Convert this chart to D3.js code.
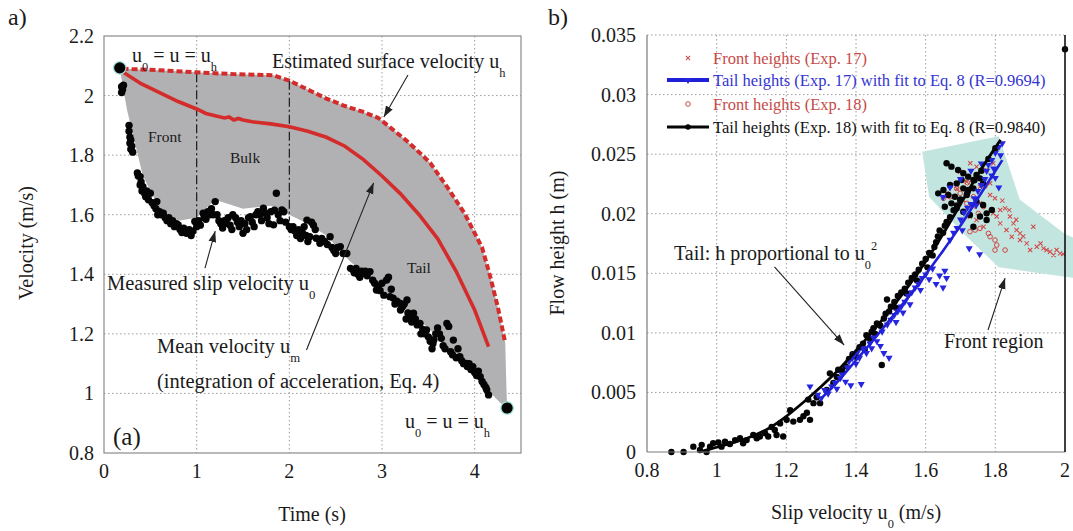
<!DOCTYPE html>
<html>
<head>
<meta charset="utf-8">
<script src="https://cdn.jsdelivr.net/npm/d3@7"></script>
<style>
  body { margin: 0; background: #fff; }
  svg { display: block; font-family: "Liberation Serif", "Times New Roman", serif; }
  .grid line { stroke: #9c9c9c; stroke-width: 1; stroke-dasharray: 1.5,2.5; }
</style>
</head>
<body>
<svg id="chart" width="1073" height="531"></svg>
<script>
// ---------- panel a) data ----------
const timeTicks = [0, 1, 2, 3, 4];
const velTicks = [0.8, 1, 1.2, 1.4, 1.6, 1.8, 2, 2.2];

// estimated surface velocity u_h (dashed red)
const surfaceVel = [[0.2,2.09],[0.6,2.085],[1.0,2.078],[1.4,2.072],[1.83,2.068],[2.0,2.05],[2.2,2.02],[2.4,1.99],
  [2.6,1.965],[2.8,1.945],[2.96,1.925],[3.1,1.89],[3.26,1.85],[3.4,1.81],[3.52,1.774],[3.71,1.69],[3.89,1.605],
  [4.08,1.49],[4.17,1.39],[4.25,1.29],[4.33,1.17]];

// mean velocity u_m (solid red)
const meanVel = [[0.2,2.08],[0.4,2.04],[0.6,2.01],[0.8,1.98],[1.0,1.955],[1.1,1.94],[1.2,1.932],[1.3,1.925],
  [1.35,1.928],[1.4,1.918],[1.45,1.923],[1.5,1.918],[1.6,1.912],[1.8,1.905],[2.0,1.895],[2.2,1.88],[2.4,1.86],
  [2.6,1.83],[2.8,1.785],[3.0,1.73],[3.2,1.67],[3.4,1.6],[3.6,1.52],[3.8,1.41],[4.0,1.28],[4.15,1.157]];

// lower edge of the grey band, from the tail end back to the start
const bandLower = [[4.34,1.05],[4.35,0.95],[4.27,0.97],[3.5,1.22],[2.65,1.445],[2.4,1.53],[2.2,1.57],[2.0,1.6],
  [1.8,1.63],[1.5,1.62],[1.2,1.65],[1.0,1.59],[0.8,1.58],[0.6,1.62],[0.42,1.73],[0.35,1.82],
  [0.25,1.95],[0.17,2.09]];

// front / bulk boundaries (dash-dot): time, top velocity, bottom velocity
const phaseBounds = [[1, 2.075, 1.58], [2, 2.05, 1.58]];

// equal-velocity end points
const endPoints = [[0.17, 2.093], [4.35, 0.951]];

// measured slip velocity u_0
const slipVel = [[0.19,2.03],[0.2,2.02],[0.19,2.01],[0.21,2.035],
  [0.27,1.9],[0.27,1.88],[0.28,1.86],[0.29,1.85],[0.28,1.84],[0.3,1.83],[0.29,1.82],[0.31,1.81],
  [0.36,1.74],[0.37,1.73],[0.39,1.728],[0.4,1.71],[0.39,1.7],[0.42,1.694],[0.41,1.68],[0.44,1.67],[0.46,1.68],
  [0.45,1.66],[0.5,1.672],[0.48,1.65],[0.52,1.64],[0.54,1.63],[0.57,1.644],[0.56,1.62],[0.6,1.61],[0.58,1.6],
  [0.62,1.6],[0.64,1.605],[0.66,1.59],[0.68,1.58],[0.7,1.59],[0.71,1.582],[0.72,1.57],[0.74,1.58],[0.76,1.56],
  [0.78,1.57],[0.8,1.566],[0.82,1.55],[0.84,1.54],[0.86,1.555],[0.89,1.538],[0.9,1.545],[0.92,1.55],[0.94,1.53],
  [0.96,1.545],[0.98,1.577],[1.0,1.56],[1.02,1.58],[1.04,1.565],[1.07,1.605],[1.08,1.59],[1.1,1.585],[1.12,1.61],
  [1.14,1.6],[1.16,1.62],[1.2,1.644],[1.18,1.6],[1.22,1.6],[1.24,1.58],[1.26,1.57],[1.28,1.555],[1.3,1.58],
  [1.32,1.571],[1.34,1.59],[1.36,1.565],[1.39,1.6],[1.38,1.55],[1.42,1.59],[1.44,1.575],[1.46,1.56],[1.48,1.58],
  [1.5,1.538],[1.52,1.57],[1.54,1.55],[1.56,1.59],[1.58,1.593],[1.6,1.575],[1.62,1.56],[1.64,1.6],[1.66,1.61],
  [1.68,1.6],[1.7,1.58],[1.72,1.622],[1.74,1.605],[1.76,1.59],[1.78,1.57],[1.8,1.61],[1.83,1.566],[1.84,1.615],
  [1.86,1.672],[1.88,1.6],[1.9,1.58],[1.92,1.616],[1.94,1.61],[1.96,1.575],[2.0,1.56],[2.02,1.55],[2.04,1.56],
  [2.06,1.545],[2.08,1.53],[2.1,1.55],[2.12,1.52],[2.14,1.54],[2.16,1.56],[2.19,1.582],[2.18,1.53],[2.2,1.51],
  [2.22,1.526],[2.24,1.575],[2.26,1.565],[2.29,1.521],[2.28,1.55],[2.33,1.504],[2.35,1.52],[2.38,1.51],
  [2.41,1.5],[2.44,1.526],[2.46,1.49],[2.48,1.48],[2.5,1.47],[2.52,1.49],[2.55,1.493],[2.58,1.47],[2.62,1.47],
  [2.66,1.42],[2.69,1.414],[2.7,1.405],[2.72,1.42],[2.74,1.4],[2.76,1.39],[2.78,1.41],[2.8,1.403],[2.82,1.41],
  [2.84,1.395],[2.87,1.409],[2.9,1.38],[2.92,1.37],[2.94,1.347],[2.96,1.36],[2.98,1.345],[3.0,1.37],[3.02,1.33],
  [3.05,1.381],[3.07,1.39],[3.085,1.325],[3.1,1.35],[3.12,1.32],[3.14,1.3],[3.16,1.31],[3.19,1.303],[3.2,1.28],
  [3.22,1.29],[3.24,1.3],[3.27,1.314],[3.26,1.25],[3.28,1.27],[3.3,1.255],[3.34,1.269],[3.32,1.24],[3.36,1.25],
  [3.38,1.23],[3.41,1.235],[3.42,1.2],[3.44,1.215],[3.46,1.2],[3.48,1.213],[3.5,1.19],[3.52,1.175],[3.55,1.168],
  [3.54,1.15],[3.56,1.18],[3.58,1.2],[3.6,1.22],[3.62,1.2],[3.64,1.185],[3.66,1.16],[3.68,1.15],[3.7,1.235],
  [3.72,1.225],[3.74,1.14],[3.77,1.179],[3.76,1.13],[3.8,1.12],[3.82,1.15],[3.84,1.123],[3.86,1.11],[3.88,1.1],
  [3.91,1.101],[3.92,1.09],[3.94,1.1],[3.96,1.08],[3.98,1.09],[4.0,1.07],[4.02,1.06],[4.04,1.075],[4.06,1.056],
  [4.08,1.04],[4.1,1.03],[4.12,1.02],[4.13,1.012],[4.15,0.995]];

// ---------- panel b) data ----------
const slipTicks = [0.8, 1, 1.2, 1.4, 1.6, 1.8, 2];
const heightTicks = [0, 0.005, 0.01, 0.015, 0.02, 0.025, 0.03, 0.035];

const frontRegion = [[1.59,0.0252],[1.81,0.0265],[1.87,0.0212],[2.0,0.0183],[2.03,0.0179],[2.03,0.0146],
  [2.0,0.0147],[1.81,0.0155],[1.72,0.018],[1.61,0.0214]];

const front17 = [[1.699,0.02353],[1.728,0.02423],[1.746,0.02395],[1.775,0.02367],[1.794,0.02423],[1.718,0.02269],
  [1.756,0.02227],[1.785,0.02255],[1.66,0.02171],[1.68,0.02143],[1.708,0.02115],[1.737,0.02059],[1.756,0.02087],
  [1.775,0.02003],[1.794,0.02003],[1.814,0.02031],[1.828,0.02045],[1.842,0.01976],[1.852,0.01919],[1.861,0.01863],
  [1.832,0.01863],[1.871,0.01835],[1.847,0.01807],[1.89,0.01751],[1.909,0.01891],[1.919,0.01723],[1.938,0.01709],
  [1.957,0.01681],[1.967,0.01653],[1.986,0.01667],[1.947,0.01695],[1.804,0.01976],[1.814,0.01919],[1.766,0.01891],
  [1.785,0.02157],[1.799,0.02129],[1.727,0.01976],[1.746,0.01947],[1.871,0.01779],[1.9,0.01695],[1.976,0.01695],
  [1.995,0.01661],[1.82,0.0211],[1.84,0.0203],[1.86,0.0195],[1.88,0.0181],[1.93,0.0175],[1.69,0.0221]];

const front18 = [[1.785,0.01807],[1.799,0.01779],[1.78,0.01835],[1.804,0.01737],[1.799,0.01695],[1.828,0.01695],
  [1.756,0.01877],[1.742,0.01863],[1.727,0.01849],[1.67,0.02143],[1.699,0.02171],[1.651,0.02129],[1.718,0.02087],
  [1.737,0.02143],[1.766,0.02059],[1.689,0.02213],[1.751,0.02003],[1.77,0.0223],[1.72,0.0226]];

const tail17 = [[1.268,0.0055],[1.29,0.0048],[1.3,0.0045],[1.31,0.0052],[1.32,0.0049],[1.33,0.0055],[1.34,0.0058],
  [1.345,0.0053],[1.355,0.0062],[1.36,0.0065],[1.37,0.0059],[1.375,0.0071],[1.38,0.0076],[1.385,0.0056],
  [1.39,0.0079],[1.395,0.0082],[1.4,0.0074],[1.405,0.0084],[1.41,0.0079],[1.415,0.0057],[1.42,0.0087],
  [1.43,0.0083],[1.44,0.0091],[1.445,0.0087],[1.45,0.0096],[1.46,0.0093],[1.47,0.0089],[1.475,0.0101],
  [1.48,0.0083],[1.49,0.0107],[1.495,0.0079],[1.5,0.0111],[1.51,0.0115],[1.515,0.0109],[1.52,0.0118],
  [1.53,0.0122],[1.535,0.0117],[1.54,0.0126],[1.55,0.0131],[1.555,0.0124],[1.56,0.0134],[1.57,0.0138],
  [1.58,0.0141],[1.585,0.0136],[1.59,0.0146],[1.6,0.0149],[1.61,0.0145],[1.62,0.0154],[1.63,0.0141],
  [1.64,0.0148],[1.65,0.0138],[1.655,0.0152],[1.66,0.0146],[1.67,0.0178],[1.68,0.0184],[1.69,0.0188],
  [1.7,0.0195],[1.705,0.0186],[1.71,0.0201],[1.72,0.0205],[1.725,0.0171],[1.73,0.0208],[1.74,0.0213],
  [1.745,0.0207],[1.75,0.0219],[1.755,0.0166],[1.76,0.0224],[1.77,0.0229],[1.775,0.0236],[1.78,0.0241],
  [1.79,0.0245],[1.795,0.0238],[1.8,0.0251],[1.81,0.0256],[1.815,0.0249],[1.82,0.0259],[1.65,0.0214],
  [1.67,0.0222],[1.7,0.0229],[1.73,0.0236],[1.76,0.0242],[1.79,0.0232],[1.8,0.023],[1.81,0.0222]];

const fit17 = [[1.3,0.0045],[1.35,0.006],[1.4,0.0077],[1.45,0.0094],[1.5,0.0112],[1.55,0.013],[1.6,0.0149],
  [1.65,0.0169],[1.7,0.019],[1.75,0.0213],[1.82,0.0245]];

const tail18 = [[0.87,0],[0.905,0],[0.933,0.00045],[0.952,0.00017],[0.957,0.0006],[0.971,0],[0.981,0.00045],
  [0.99,0.00073],[1.005,0.0008],[1.014,0.00045],[1.024,0.00087],[1.038,0.00067],[1.053,0.001],[1.067,0.00115],
  [1.076,0.00073],[1.086,0.001],[1.105,0.00143],[1.115,0.00115],[1.124,0.0013],[1.139,0.00157],[1.148,0.0013],
  [1.158,0.0021],[1.167,0.00185],[1.172,0.00143],[1.182,0.0024],[1.191,0.0013],[1.201,0.0027],[1.211,0.0035],
  [1.22,0.00255],[1.239,0.0027],[1.249,0.003],[1.259,0.0033],[1.268,0.0027],[1.263,0.0044],[1.278,0.0041],
  [1.287,0.0046],[1.297,0.0041],[1.316,0.0052],[1.325,0.0066],[1.335,0.0058],[1.345,0.0063],[1.349,0.0069],
  [1.36,0.0068],[1.37,0.0072],[1.38,0.0078],[1.39,0.0082],[1.4,0.008],[1.41,0.0088],[1.42,0.0091],
  [1.425,0.0086],[1.43,0.0098],[1.44,0.0095],[1.445,0.0101],[1.45,0.0104],[1.455,0.0099],[1.46,0.0108],
  [1.47,0.0106],[1.474,0.0073],[1.48,0.0112],[1.485,0.0116],[1.489,0.0128],[1.495,0.0118],[1.5,0.0122],
  [1.51,0.0126],[1.515,0.0121],[1.52,0.0131],[1.53,0.0134],[1.54,0.0137],[1.545,0.0133],[1.55,0.0142],
  [1.56,0.0146],[1.57,0.0149],[1.575,0.0144],[1.58,0.0153],[1.59,0.0158],[1.6,0.0162],[1.605,0.0155],
  [1.61,0.0167],[1.62,0.0165],[1.625,0.0172],[1.63,0.0176],[1.635,0.0181],[1.64,0.0186],[1.65,0.0184],
  [1.655,0.019],[1.66,0.0193],[1.67,0.0197],[1.68,0.0203],[1.69,0.0207],[1.7,0.0212],[1.72,0.0218],
  [1.74,0.0228],[1.76,0.0236],[1.78,0.0246],[1.8,0.0255],
  [1.66,0.02423],[1.674,0.02395],[1.693,0.02367],[1.708,0.02339],[1.722,0.02311],[1.737,0.02283],[1.703,0.02283],
  [1.689,0.02255],[1.67,0.02241],[1.651,0.02199],[1.636,0.02171],[1.665,0.02157],[1.684,0.02143],[1.708,0.02213],
  [1.722,0.02199],[1.746,0.02325],[1.756,0.02297],[1.765,0.02255],[1.737,0.02213],[1.718,0.02157],[1.699,0.02115],
  [1.674,0.02087],[1.655,0.02059],[1.689,0.02045],[1.708,0.02017],[1.727,0.01989],[1.756,0.01976],[1.775,0.01947],
  [1.746,0.02101],[1.765,0.02073],[1.775,0.02003],[1.79,0.02031],[1.737,0.01891],[2.0,0.0338]];

const fit18 = [[0.95,0],[1.0,0.0004],[1.05,0.0008],[1.1,0.0013],[1.15,0.002],[1.2,0.003],[1.25,0.0042],
  [1.3,0.0055],[1.35,0.0069],[1.4,0.0085],[1.45,0.0102],[1.5,0.012],[1.55,0.0139],[1.6,0.016],[1.65,0.0183],
  [1.7,0.0208],[1.75,0.0233],[1.815,0.0262]];

const legendItems = [
  { label: 'Front heights (Exp. 17)', color: '#c64a48', kind: 'cross' },
  { label: 'Tail heights (Exp. 17) with fit to Eq. 8 (R=0.9694)', color: '#3434d2', kind: 'blueline' },
  { label: 'Front heights (Exp. 18)', color: '#c64a48', kind: 'circle' },
  { label: 'Tail heights (Exp. 18) with fit to Eq. 8 (R=0.9840)', color: '#111', kind: 'blackline' }
];

// ---------- drawing ----------
const svg = d3.select('#chart');
const fmt = (d) => String(+d.toFixed(3));

const defs = svg.append('defs');
defs.append('marker').attr('id', 'arrow').attr('viewBox', '0 0 10 10')
  .attr('refX', 10).attr('refY', 5).attr('markerUnits', 'userSpaceOnUse')
  .attr('markerWidth', 11).attr('markerHeight', 11).attr('orient', 'auto')
  .append('path').attr('d', 'M0,1.5 L10,5 L0,8.5 z').attr('fill', '#222');

// text with sub/superscripts
function richText(g, x, y, parts, size, anchor) {
  const t = g.append('text').attr('x', x).attr('y', y).attr('font-size', size)
    .attr('text-anchor', anchor || 'start').attr('fill', '#1a1a1a');
  let cur = 0;
  parts.forEach(([s, k]) => {
    const off = k === 'sub' ? size * 0.45 : k === 'sup' ? -size * 0.5 : 0;
    t.append('tspan').attr('dy', off - cur)
      .attr('font-size', k ? size * 0.62 : size).text(s);
    cur = off;
  });
  return t;
}

function arrow(g, x, y, a, b) {
  g.append('line')
    .attr('x1', x(a[0])).attr('y1', y(a[1]))
    .attr('x2', x(b[0])).attr('y2', y(b[1]))
    .attr('stroke', '#222').attr('stroke-width', 1.1)
    .attr('marker-end', 'url(#arrow)');
}

// ===== panel a =====
const xL = d3.scaleLinear().domain([0, 4.5]).range([104, 521]);
const yL = d3.scaleLinear().domain([0.8, 2.2]).range([453, 36]);
const gA = svg.append('g');

const gridA = gA.append('g').attr('class', 'grid');
gridA.selectAll('.gx').data(timeTicks.slice(1)).join('line')
  .attr('x1', d => xL(d)).attr('x2', d => xL(d)).attr('y1', yL(2.2)).attr('y2', yL(0.8));
gridA.selectAll('.gy').data(velTicks.slice(1, -1)).join('line')
  .attr('y1', d => yL(d)).attr('y2', d => yL(d)).attr('x1', xL(0)).attr('x2', xL(4.5));

const band = [...surfaceVel, ...bandLower];
gA.append('path')
  .attr('d', d3.line().x(d => xL(d[0])).y(d => yL(d[1]))(band) + 'Z')
  .attr('fill', '#b1b1b3');

gA.selectAll('.phase').data(phaseBounds).join('line')
  .attr('x1', d => xL(d[0])).attr('x2', d => xL(d[0]))
  .attr('y1', d => yL(d[1])).attr('y2', d => yL(d[2]))
  .attr('stroke', '#1a1a1a').attr('stroke-width', 1.2).attr('stroke-dasharray', '9,3,2,3');

gA.append('path')
  .attr('d', d3.line().x(d => xL(d[0])).y(d => yL(d[1]))(meanVel))
  .attr('fill', 'none').attr('stroke', '#d42b2b').attr('stroke-width', 3.6);

gA.append('path')
  .attr('d', d3.line().x(d => xL(d[0])).y(d => yL(d[1]))(surfaceVel))
  .attr('fill', 'none').attr('stroke', '#d42b2b').attr('stroke-width', 4)
  .attr('stroke-dasharray', '6,3');

gA.selectAll('.slip').data(slipVel).join('circle')
  .attr('cx', d => xL(d[0])).attr('cy', d => yL(d[1])).attr('r', 3.7).attr('fill', '#050505');

gA.selectAll('.ends').data(endPoints).join('circle')
  .attr('cx', d => xL(d[0])).attr('cy', d => yL(d[1])).attr('r', 6.2)
  .attr('fill', '#000').attr('stroke', '#9fe3dc').attr('stroke-width', 1.2);

gA.append('rect').attr('x', xL(0)).attr('y', yL(2.2))
  .attr('width', xL(4.5) - xL(0)).attr('height', yL(0.8) - yL(2.2))
  .attr('fill', 'none').attr('stroke', '#8a8a8a').attr('stroke-width', 1.2);

gA.selectAll('.tx').data(timeTicks).join('text')
  .attr('x', d => xL(d)).attr('y', 478).attr('text-anchor', 'middle')
  .attr('font-size', 20).attr('fill', '#1a1a1a').text(fmt);
gA.selectAll('.ty').data(velTicks).join('text')
  .attr('x', 94).attr('y', d => yL(d) + 7).attr('text-anchor', 'end')
  .attr('font-size', 20).attr('fill', '#1a1a1a').text(fmt);

gA.append('text').attr('x', 8).attr('y', 25).attr('font-size', 24).attr('fill', '#1a1a1a').text('a)');
gA.append('text').attr('x', 312).attr('y', 521).attr('text-anchor', 'middle')
  .attr('font-size', 20).attr('fill', '#1a1a1a').text('Time (s)');
gA.append('text').attr('transform', 'translate(33,243) rotate(-90)').attr('text-anchor', 'middle')
  .attr('font-size', 20).attr('fill', '#1a1a1a').text('Velocity (m/s)');

richText(gA, 132, 62, [['u'], ['0', 'sub'], [' = u = u'], ['h', 'sub']], 20);
richText(gA, 272, 68, [['Estimated surface velocity u'], ['h', 'sub']], 20);
gA.append('text').attr('x', 148).attr('y', 142).attr('font-size', 15.5).attr('fill', '#1a1a1a').text('Front');
gA.append('text').attr('x', 230).attr('y', 163).attr('font-size', 15.5).attr('fill', '#1a1a1a').text('Bulk');
gA.append('text').attr('x', 407).attr('y', 273).attr('font-size', 15.5).attr('fill', '#1a1a1a').text('Tail');
richText(gA, 107, 290, [['Measured slip velocity u'], ['0', 'sub']], 20.5);
richText(gA, 157, 353, [['Mean velocity u'], ['m', 'sub']], 20.5);
gA.append('text').attr('x', 157).attr('y', 388).attr('font-size', 20.5).attr('fill', '#1a1a1a')
  .text('(integration of acceleration, Eq. 4)');
gA.append('text').attr('x', 113).attr('y', 445).attr('font-size', 25).attr('fill', '#1a1a1a').text('(a)');
richText(gA, 405, 428, [['u'], ['0', 'sub'], [' = u = u'], ['h', 'sub']], 20);

arrow(gA, xL, yL, [3.28, 2.069], [3.02, 1.928]);
arrow(gA, xL, yL, [1.09, 1.421], [1.2, 1.545]);
arrow(gA, xL, yL, [2.185, 1.146], [2.91, 1.707]);

// ===== panel b =====
const xR = d3.scaleLinear().domain([0.8, 2.0]).range([647, 1065]);
const yR = d3.scaleLinear().domain([0, 0.035]).range([452, 35]);
const gB = svg.append('g');

const gridB = gB.append('g').attr('class', 'grid');
gridB.selectAll('.gx').data(slipTicks.slice(1, -1)).join('line')
  .attr('x1', d => xR(d)).attr('x2', d => xR(d)).attr('y1', yR(0.035)).attr('y2', yR(0));
gridB.selectAll('.gy').data(heightTicks.slice(1)).join('line')
  .attr('y1', d => yR(d)).attr('y2', d => yR(d)).attr('x1', xR(0.8)).attr('x2', xR(2.0));

gB.append('path')
  .attr('d', d3.line().x(d => xR(d[0])).y(d => yR(d[1]))(frontRegion) + 'Z')
  .attr('fill', '#c3e5df');

const crossPath = 'M-3,0H3M0,-3V3';
gB.selectAll('.f17').data(front17).join('path')
  .attr('transform', d => `translate(${xR(d[0])},${yR(d[1])}) rotate(45)`)
  .attr('d', crossPath)
  .attr('stroke', '#d04444').attr('stroke-width', 1).attr('fill', 'none');

gB.selectAll('.f18').data(front18).join('circle')
  .attr('cx', d => xR(d[0])).attr('cy', d => yR(d[1])).attr('r', 2.3)
  .attr('fill', 'none').attr('stroke', '#d04444').attr('stroke-width', 1);

gB.selectAll('.t18').data(tail18).join('circle')
  .attr('cx', d => xR(d[0])).attr('cy', d => yR(d[1])).attr('r', 3.2).attr('fill', '#050505');

const tri = d3.symbol(d3.symbolTriangle, 22)();
gB.selectAll('.t17').data(tail17).join('path')
  .attr('transform', d => `translate(${xR(d[0])},${yR(d[1])}) rotate(180)`)
  .attr('d', tri).attr('fill', '#2626e0');

gB.append('path')
  .attr('d', d3.line().curve(d3.curveMonotoneX).x(d => xR(d[0])).y(d => yR(d[1]))(fit17))
  .attr('fill', 'none').attr('stroke', '#2020d8').attr('stroke-width', 2.6);
gB.append('path')
  .attr('d', d3.line().curve(d3.curveMonotoneX).x(d => xR(d[0])).y(d => yR(d[1]))(fit18))
  .attr('fill', 'none').attr('stroke', '#050505').attr('stroke-width', 2.8);

// frame: grey left/bottom, black right edge
gB.append('line').attr('x1', xR(0.8)).attr('x2', xR(0.8)).attr('y1', yR(0.035)).attr('y2', yR(0))
  .attr('stroke', '#7a7a7a').attr('stroke-width', 1.2);
gB.append('line').attr('x1', xR(0.8)).attr('x2', xR(2.0)).attr('y1', yR(0)).attr('y2', yR(0))
  .attr('stroke', '#7a7a7a').attr('stroke-width', 1.2);
gB.append('line').attr('x1', xR(2.0)).attr('x2', xR(2.0)).attr('y1', yR(0.035)).attr('y2', yR(0))
  .attr('stroke', '#111').attr('stroke-width', 1.6);

gB.selectAll('.tx').data(slipTicks).join('text')
  .attr('x', d => xR(d)).attr('y', 477).attr('text-anchor', 'middle')
  .attr('font-size', 20).attr('fill', '#1a1a1a').text(fmt);
gB.selectAll('.ty').data(heightTicks).join('text')
  .attr('x', 636).attr('y', d => yR(d) + 7).attr('text-anchor', 'end')
  .attr('font-size', 20).attr('fill', '#1a1a1a').text(fmt);

gB.append('text').attr('x', 548).attr('y', 25).attr('font-size', 24).attr('fill', '#1a1a1a').text('b)');
richText(gB, 856, 519, [['Slip velocity u'], ['0', 'sub'], [' (m/s)']], 20, 'middle');
gB.append('text').attr('transform', 'translate(564,243) rotate(-90)').attr('text-anchor', 'middle')
  .attr('font-size', 20).attr('fill', '#1a1a1a').text('Flow height h (m)');

// legend
const leg = gB.append('g');
legendItems.forEach((item, i) => {
  const y = [58, 80, 104, 127][i];
  if (item.kind === 'cross') {
    leg.append('path').attr('transform', `translate(688,${y}) rotate(45)`)
      .attr('d', crossPath).attr('stroke', item.color).attr('stroke-width', 1);
  } else if (item.kind === 'circle') {
    leg.append('circle').attr('cx', 688).attr('cy', y).attr('r', 2.3)
      .attr('fill', 'none').attr('stroke', item.color).attr('stroke-width', 1);
  } else if (item.kind === 'blueline') {
    leg.append('line').attr('x1', 667).attr('x2', 709).attr('y1', y).attr('y2', y)
      .attr('stroke', '#2020d8').attr('stroke-width', 4);
    leg.append('path').attr('transform', `translate(688,${y}) rotate(180)`).attr('d', tri).attr('fill', '#2626e0');
  } else {
    leg.append('line').attr('x1', 667).attr('x2', 709).attr('y1', y).attr('y2', y)
      .attr('stroke', '#050505').attr('stroke-width', 3);
    leg.append('circle').attr('cx', 688).attr('cy', y).attr('r', 2.8).attr('fill', '#050505');
  }
  leg.append('text').attr('x', 713).attr('y', y + 6).attr('font-size', 16.5)
    .attr('fill', item.color).text(item.label);
});

richText(gB, 674, 260, [['Tail: h proportional to u'], ['0', 'sub'], ['2', 'sup']], 20);
gB.append('text').attr('x', 944).attr('y', 348).attr('font-size', 20).attr('fill', '#1a1a1a').text('Front region');

arrow(gB, xR, yR, [1.166, 0.01553], [1.366, 0.00898]);
arrow(gB, xR, yR, [1.779, 0.01024], [1.828, 0.0146]);
</script>
</body>
</html>
